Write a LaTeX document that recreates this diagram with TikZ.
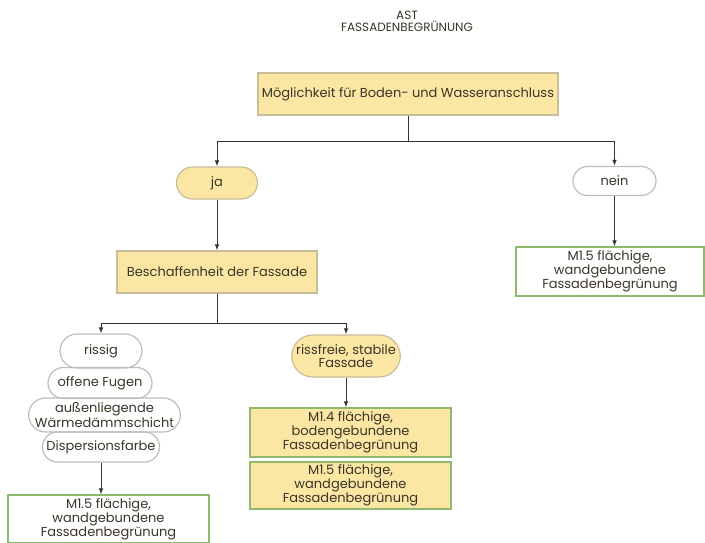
\documentclass[tikz,border=0pt]{standalone}
\usepackage{fontspec}
\setmainfont{Poppins}
\usetikzlibrary{arrows.meta,shapes.misc}
\definecolor{boxfill}{HTML}{FCE6A4}
\definecolor{boxedge}{HTML}{C9BE9A}
\definecolor{greenedge}{HTML}{8DBA6C}
\definecolor{pilledge}{HTML}{BDBDBD}
\definecolor{txt}{HTML}{3A3528}
\begin{document}
\begin{tikzpicture}[x=1pt, y=-1pt,
		font=\fontsize{13}{13}\selectfont, text=txt,
		frage/.style={draw=boxedge, fill=boxfill, line width=1.2pt, inner sep=1pt, align=center},
		ergebnis/.style={draw=greenedge, line width=1.2pt, inner sep=1pt, align=center},
		pille/.style={rounded rectangle, draw=pilledge, line width=1.2pt, inner sep=1pt, align=center},
		pillegelb/.style={pille, draw=boxedge, fill=boxfill},
		pfeil/.style={draw=black!80, line width=0.9pt, -{Latex[length=6pt,width=4.5pt]}},
		linie/.style={draw=black!80, line width=0.9pt}]
		\useasboundingbox (0, 0) rectangle (705, 543);

		\node[align=center, font=\fontsize{12}{12}\selectfont] (titel) at (407, 21) {AST\\FASSADENBEGRÜNUNG};

		\node[frage, minimum width=300, minimum height=42] (moegl) at (408, 94) {Möglichkeit für Boden- und Wasseranschluss};

		\node[pillegelb, minimum width=83, minimum height=32] (ja) at (217, 183) {ja};
		\node[pille, minimum width=85, minimum height=29] (nein) at (614.5, 181) {nein};

		\node[frage, minimum width=200, minimum height=42] (besch) at (217, 272) {Beschaffenheit der Fassade};
		\node[ergebnis, minimum width=188, minimum height=49] (neinres) at (610, 271.5) {M1.5 flächige,\\wandgebundene\\Fassadenbegrünung};

		% linker Ast
		\node[pille, minimum width=84, minimum height=34] (rissig) at (101, 351) {rissig};
		\node[pille, minimum width=106, minimum height=31] (fugen) at (100, 383) {offene Fugen};
		\node[pille, minimum width=145, minimum height=34] (daemm) at (104.5, 415) {außenliegende\\Wärmedämmschicht};
		\node[pille, minimum width=119, minimum height=30] (disp) at (101, 447) {Dispersionsfarbe};
		\node[ergebnis, minimum width=201, minimum height=48] (linksres) at (108.5, 519) {M1.5 flächige,\\wandgebundene\\Fassadenbegrünung};

		% rechter Ast
		\node[pillegelb, minimum width=108, minimum height=42] (stabil) at (346, 356) {rissfreie, stabile\\Fassade};
		\node[frage, draw=greenedge, minimum width=201, minimum height=49] (boden) at (350.5, 432.5) {M1.4 flächige,\\bodengebundene\\Fassadenbegrünung};
		\node[frage, draw=greenedge, minimum width=201, minimum height=47] (wand) at (350.5, 485.5) {M1.5 flächige,\\wandgebundene\\Fassadenbegrünung};

		% Verbindungen
		\draw[linie] (moegl.south) -- ++(0, 26) coordinate (k1);
		\draw[pfeil] (k1) -| (ja.north);
		\draw[pfeil] (k1) -| (nein.north);
		\draw[pfeil] (ja.south) -- (besch.north);
		\draw[pfeil] (nein.south) -- (nein.south |- neinres.north);
		\draw[linie] (besch.south) -- ++(0, 30) coordinate (k2);
		\draw[pfeil] (k2) -| (rissig.north);
		\draw[pfeil] (k2) -| (stabil.north);
		\draw[pfeil] (disp.south) -- (disp.south |- linksres.north);
		\draw[pfeil] (stabil.south) -- (stabil.south |- boden.north);
	\end{tikzpicture}
\end{document}
